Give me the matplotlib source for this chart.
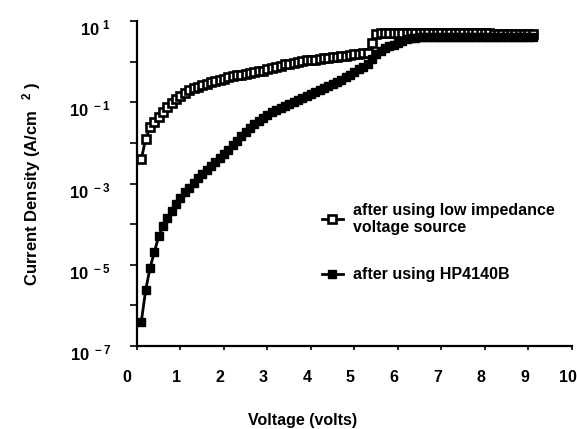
import numpy as np
import matplotlib
matplotlib.use("Agg")
import matplotlib.pyplot as plt
import matplotlib.transforms as mtransforms

plt.rcParams['font.family'] = ['Liberation Sans', 'DejaVu Sans']
plt.rcParams['font.weight'] = 'bold'
plt.rcParams['mathtext.fontset'] = 'custom'
plt.rcParams['mathtext.rm'] = 'Liberation Sans:bold'
plt.rcParams['mathtext.bf'] = 'Liberation Sans:bold'
plt.rcParams['mathtext.it'] = 'Liberation Sans:bold'

# Voltage sweep (V)
voltage = np.round(np.arange(1, 92) * 0.1, 1)

# log10 of current density (A/cm^2), low impedance voltage source (open squares)
log_j_low_impedance = [
    -2.40, -1.90, -1.62, -1.48, -1.37, -1.25, -1.12, -1.02, -0.93, -0.85,
    -0.77, -0.70, -0.66, -0.62, -0.58, -0.55, -0.51, -0.48, -0.45, -0.42,
    -0.39, -0.36, -0.34, -0.32, -0.30, -0.28, -0.26, -0.24, -0.22, -0.19,
    -0.16, -0.13, -0.10, -0.07, -0.05, -0.03, -0.01, 0.01, 0.03, 0.04,
    0.05, 0.07, 0.08, 0.09, 0.11, 0.12, 0.14, 0.15, 0.17, 0.18,
    0.20, 0.21, 0.22, 0.46, 0.69, 0.70, 0.70, 0.70, 0.70, 0.70,
    0.70, 0.70, 0.70, 0.70, 0.70, 0.70, 0.70, 0.70, 0.70, 0.70,
    0.70, 0.70, 0.70, 0.70, 0.70, 0.70, 0.70, 0.70, 0.70, 0.70,
    0.70, 0.69, 0.69, 0.69, 0.69, 0.69, 0.69, 0.69, 0.69, 0.69,
    0.69,
]

# log10 of current density (A/cm^2), after using HP4140B (filled squares)
log_j_hp4140b = [
    -6.40, -5.62, -5.08, -4.68, -4.30, -4.05, -3.85, -3.67, -3.50, -3.35,
    -3.22, -3.10, -2.98, -2.87, -2.77, -2.67, -2.57, -2.47, -2.38, -2.28,
    -2.17, -2.06, -1.95, -1.84, -1.73, -1.63, -1.54, -1.46, -1.38, -1.31,
    -1.25, -1.19, -1.13, -1.08, -1.04, -1.00, -0.95, -0.90, -0.85, -0.80,
    -0.75, -0.70, -0.65, -0.60, -0.55, -0.50, -0.44, -0.38, -0.32, -0.26,
    -0.19, -0.13, -0.06, 0.06, 0.18, 0.27, 0.33, 0.38, 0.42, 0.47,
    0.51, 0.55, 0.58, 0.59, 0.60, 0.60, 0.60, 0.60, 0.60, 0.60,
    0.60, 0.60, 0.60, 0.60, 0.60, 0.60, 0.60, 0.60, 0.60, 0.60,
    0.60, 0.60, 0.60, 0.60, 0.60, 0.60, 0.60, 0.60, 0.60, 0.60,
    0.60,
]

labels = ["after using low impedance\nvoltage source", "after using HP4140B"]
x_ticks = list(range(0, 11))
y_decades = list(range(-7, 2))

fig = plt.figure(figsize=(5.77, 4.29), dpi=100)
ax = fig.add_axes([0.2374, 0.1935, 0.7539, 0.7575])

j_low = 10.0 ** np.array(log_j_low_impedance)
j_hp = 10.0 ** np.array(log_j_hp4140b)

l1, = ax.plot(voltage, j_low, '-s', color='black', lw=2.0, ms=5.8,
              mfc='white', mec='black', mew=1.9, label=labels[0])
l2, = ax.plot(voltage, j_hp, '-s', color='black', lw=2.0, ms=5.8,
              mfc='black', mec='black', mew=1.0, label=labels[1])

ax.set_yscale('log')
ax.set_xlim(0, 10)
ax.set_ylim(1e-7, 1e1)

ax.set_xticks(x_ticks)
ax.set_xticklabels([str(t) for t in x_ticks], fontsize=11.5, fontweight='bold')
ax.set_yticks([10.0 ** d for d in y_decades])
ax.set_yticklabels([(r'$10^{\ %d}$' % d) if d % 2 != 0 else '' for d in y_decades],
                   fontsize=12)
ax.yaxis.set_minor_locator(matplotlib.ticker.NullLocator())

ax.tick_params(axis='x', direction='out', length=3, width=1.2, pad=14)
ax.tick_params(axis='y', direction='out', length=5, width=1.2, pad=14)

# x tick labels sit slightly left of their ticks in the reference
for t, lab in zip(x_ticks, ax.get_xticklabels()):
    dx = -10 if t == 0 else -4
    lab.set_transform(lab.get_transform() +
                      mtransforms.ScaledTranslation(dx / 100, 0, fig.dpi_scale_trans))
for lab in ax.get_yticklabels():
    lab.set_transform(lab.get_transform() +
                      mtransforms.ScaledTranslation(0, -6 / 100, fig.dpi_scale_trans))

for s in ['top', 'right']:
    ax.spines[s].set_visible(False)
for s in ['left', 'bottom']:
    ax.spines[s].set_linewidth(1.6)

ax.set_xlabel('Voltage (volts)', fontsize=11.5, fontweight='bold')
ax.xaxis.set_label_coords(0.38, -0.205)
ax.set_ylabel(r'Current Density (A/cm$^{\ \ \ 2}$ )', fontsize=12, fontweight='bold')
ax.yaxis.set_label_coords(-0.215, 0.5)

leg = ax.legend(handles=[l1, l2], loc='upper left', bbox_to_anchor=(0.392, 0.485),
                frameon=False, handlelength=1.3, handletextpad=0.62,
                labelspacing=2.0, prop={'weight': 'bold', 'size': 11.5})

fig.savefig('out.png', dpi=100)
